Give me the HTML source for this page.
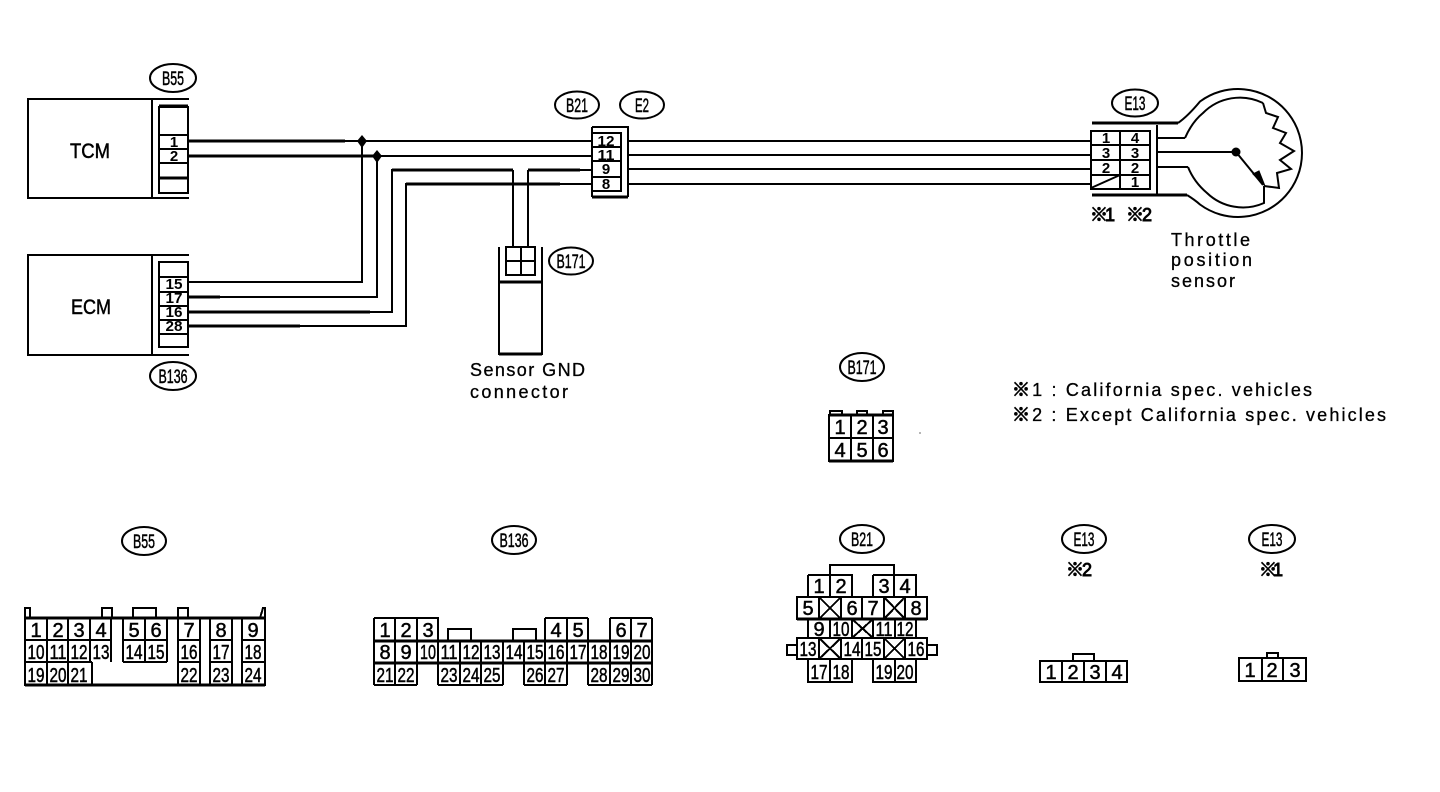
<!DOCTYPE html>
<html><head><meta charset="utf-8"><style>
html,body{margin:0;padding:0;background:#fff;width:1440px;height:792px;overflow:hidden}
svg{display:block}
text{font-family:"Liberation Sans","Noto Sans CJK JP",sans-serif;fill:#000}
.n text{font-size:20px;text-anchor:middle;stroke:#000;stroke-width:.5}
.s text{font-size:15px;font-weight:bold;text-anchor:middle}
.o text{font-size:19px;text-anchor:middle;stroke:#000;stroke-width:.5}
.o ellipse{fill:none;stroke:#000;stroke-width:2}
.l{font-size:18px;stroke:#000;stroke-width:.3}
.m{stroke:#000;stroke-width:.9}
</style></head><body>
<svg width="1440" height="792" viewBox="0 0 1440 792" xmlns="http://www.w3.org/2000/svg">
<g fill="none" stroke="#000" stroke-width="2" shape-rendering="crispEdges">
<!-- TCM -->
<path d="M189 99H28V198H189M152 99V198"/>
<path d="M159 107V193H188V107ZM159 135H188M159 149H188M159 163H188" />
<path d="M159 106H188M159 178H188" stroke-width="3"/>
<!-- ECM -->
<path d="M189 255H28V355H189M152 255V355"/>
<path d="M159 262V347H188V262ZM159 277H188M159 292H188M159 306H188M159 320H188M159 334H188"/>
<!-- wires -->
<path d="M189 141H592M189 156H592M189 282H362V141M189 297H377V156M189 312H392V170H513M189 326H406V184H592M528 170H592M513 170V247M528 170V247"/>
<path d="M189 141H345M189 156H377M392 170H513M528 170H580M406 184H560M189 297H220M189 312H370M189 326H300" stroke-width="3"/>
<path d="M628 141H1091M628 155H1091M628 169H1091M628 184H1091"/>
<!-- B21/E2 -->
<path d="M592 127H628V197M592 127V197M592 133H621V191H592M592 147H621M592 161H621M592 177H621"/>
<path d="M592 197H628" stroke-width="3"/>
<!-- sensor gnd -->
<path d="M499 247V354H542V247M499 282H542M506 247H535V275H506ZM521 247V275M506 261H535"/>
<path d="M499 354H542M499 282H542" stroke-width="3"/>
<!-- E13 connector -->
<path d="M1091 131H1150V189H1091ZM1120 131V189M1091 145H1150M1091 160H1150M1091 175H1150M1157 125V195"/>
<path d="M1092 123H1178M1092 195H1187" stroke-width="3"/>
<path d="M1157 138H1185M1157 167H1188M1157 152H1236"/>
<!-- B171 connector -->
<path d="M829 415H893V461H829ZM851 415V461M873 415V461M829 438H893"/>
<path d="M829 461H893M829 415H893" stroke-width="3"/>
<path d="M830 415V411H842V415M857 415V411H867V415M883 415V411H893V415"/>
<!-- B55 connector -->
<path d="M25 618H265V685H25ZM25 640H111V662M123 640H167M178 640H200M210 640H232M242 640H265M25 662H92M178 662H200M210 662H232M242 662H265"/>
<path d="M47 618V685M68 618V685M90 618V662M111 618V662M123 618V662M145 618V662M167 618V662M178 618V685M200 618V685M210 618V685M232 618V685M242 618V685M92 662V685M123 662H167"/>
<path d="M25 618V608H30V618M102 618V608H112V618M133 618V608H156V618M178 618V608H188V618M260 618L263 608H265V618"/>
<path d="M25 618H265M25 685H265" stroke-width="3"/>
<!-- B136 connector -->
<path d="M374 618H438V641M374 618V685M395 618V685M417 618V685M438 641V685M460 641V685M481 641V685M503 641V685M524 641V685M545 618V685M567 618V685M588 618V685M610 618V685M631 618V685M652 618V685M545 618H588M610 618H652M374 641H652M374 663H652M374 685H417M438 685H503M524 685H567M588 685H652"/>
<path d="M448 641V629H471V641M513 641V629H536V641"/>
<path d="M374 641H652M374 663H652" stroke-width="3"/>
<!-- B21 connector -->
<path d="M830 575V565H894V575M808 575H852V597M808 575V597M830 575V597M873 575H916V597M873 575V597M894 575V597"/>
<path d="M797 597H927V619H797ZM819 597V619M841 597V619M862 597V619M884 597V619M905 597V619M819 597L841 619M841 597L819 619M884 597L905 619M905 597L884 619"/>
<path d="M808 619V638M830 619V638M852 619V638M873 619V638M895 619V638M916 619V638M852 619L873 638M873 619L852 638"/>
<path d="M797 638H927V659H797ZM819 638V659M841 638V659M862 638V659M884 638V659M905 638V659M819 638L841 659M841 638L819 659M884 638L905 659M905 638L884 659"/>
<path d="M787 645H797V655H787ZM927 645H937V655H927Z"/>
<path d="M808 659V682H852V659M830 659V682M873 659V682H916V659M895 659V682"/>
<path d="M797 619H927" stroke-width="3"/>
<!-- E13 bottom -->
<path d="M1040 661H1127V682H1040ZM1062 661V682M1084 661V682M1106 661V682M1073 661V654H1094V661"/>
<path d="M1239 658H1306V681H1239ZM1262 658V681M1283 658V681M1267 658V653H1278V658"/>
</g>
<!-- sensor -->
<g fill="none" stroke="#000" stroke-width="2">
<path d="M1178 123Q1188 116 1200 101.5A64 64 0 1 1 1200 204.5Q1195 200 1187 195"/>
<path d="M1185 138Q1192 122 1203 113A52 52 0 0 1 1263 103M1188 167Q1194 182 1207 193A52 52 0 0 0 1264 203V186"/>
<path d="M1263 103L1266 113L1278 117L1273 128L1286 133L1280 143L1294 151L1280 160L1291 169L1277 173L1279 188L1264 186"/>
<path d="M1236 152L1263 185"/>
<path d="M1091 188L1120 175"/>
</g>
<circle cx="1236" cy="152" r="4.5"/>
<path d="M1253 174L1259 171L1265 186Z" stroke="#000" stroke-width="1"/>
<path d="M362 135L367 141L362 148L357 141Z"/>
<path d="M377 150L382 156L377 163L372 156Z"/>
<!-- oval labels -->
<g class="o">
<ellipse cx="173" cy="78" rx="23" ry="14"/><text x="173" y="85" textLength="22" lengthAdjust="spacingAndGlyphs">B55</text>
<ellipse cx="173" cy="376" rx="23" ry="14"/><text x="173" y="383" textLength="29" lengthAdjust="spacingAndGlyphs">B136</text>
<ellipse cx="577" cy="105" rx="22" ry="13.5"/><text x="577" y="112" textLength="22" lengthAdjust="spacingAndGlyphs">B21</text>
<ellipse cx="642" cy="105" rx="22" ry="13.5"/><text x="642" y="112" textLength="14" lengthAdjust="spacingAndGlyphs">E2</text>
<ellipse cx="1135" cy="103" rx="23" ry="13.5"/><text x="1135" y="110" textLength="21" lengthAdjust="spacingAndGlyphs">E13</text>
<ellipse cx="571" cy="261" rx="22" ry="13.5"/><text x="571" y="268" textLength="29" lengthAdjust="spacingAndGlyphs">B171</text>
<ellipse cx="862" cy="367" rx="22" ry="14"/><text x="862" y="374" textLength="29" lengthAdjust="spacingAndGlyphs">B171</text>
<ellipse cx="144" cy="541" rx="22" ry="14"/><text x="144" y="548" textLength="22" lengthAdjust="spacingAndGlyphs">B55</text>
<ellipse cx="514" cy="540" rx="22" ry="14"/><text x="514" y="547" textLength="29" lengthAdjust="spacingAndGlyphs">B136</text>
<ellipse cx="862" cy="539" rx="22" ry="14"/><text x="862" y="546" textLength="22" lengthAdjust="spacingAndGlyphs">B21</text>
<ellipse cx="1084" cy="539" rx="22" ry="14"/><text x="1084" y="546" textLength="21" lengthAdjust="spacingAndGlyphs">E13</text>
<ellipse cx="1272" cy="539" rx="23" ry="14"/><text x="1272" y="546" textLength="21" lengthAdjust="spacingAndGlyphs">E13</text>
</g>
<!-- main labels -->
<text x="70" y="158" font-size="21" stroke="#000" stroke-width=".5" textLength="40" lengthAdjust="spacingAndGlyphs">TCM</text>
<text x="71" y="314" font-size="21" stroke="#000" stroke-width=".5" textLength="40" lengthAdjust="spacingAndGlyphs">ECM</text>
<text class="l" x="470" y="376" textLength="115">Sensor GND</text>
<text class="l" x="470" y="398" textLength="98">connector</text>
<text class="l" x="1171" y="246" textLength="79">Throttle</text>
<text class="l" x="1171" y="266" textLength="81">position</text>
<text class="l" x="1171" y="287" textLength="64">sensor</text>
<text class="l" x="1012" y="396" textLength="300"><tspan class="m">※</tspan>1 : California spec. vehicles</text>
<text class="l" x="1012" y="421" textLength="374"><tspan class="m">※</tspan>2 : Except California spec. vehicles</text>
<text class="m" x="1090" y="221" font-size="18" textLength="25">※1</text>
<text class="m" x="1126" y="221" font-size="18" textLength="26">※2</text>
<text class="m" x="1066" y="576" font-size="18" textLength="26">※2</text>
<text class="m" x="1259" y="576" font-size="18" textLength="24">※1</text>
<!-- small pins -->
<g class="s">
<text x="174" y="147">1</text><text x="174" y="161">2</text>
<text x="174" y="289" textLength="17" lengthAdjust="spacingAndGlyphs">15</text><text x="174" y="303" textLength="17" lengthAdjust="spacingAndGlyphs">17</text><text x="174" y="317" textLength="17" lengthAdjust="spacingAndGlyphs">16</text><text x="174" y="331" textLength="17" lengthAdjust="spacingAndGlyphs">28</text>
<text x="606" y="146" textLength="17" lengthAdjust="spacingAndGlyphs">12</text><text x="606" y="160" textLength="17" lengthAdjust="spacingAndGlyphs">11</text><text x="606" y="174">9</text><text x="606" y="189">8</text>
<text x="1106" y="143">1</text><text x="1135" y="143">4</text><text x="1106" y="158">3</text><text x="1135" y="158">3</text><text x="1106" y="173">2</text><text x="1135" y="173">2</text><text x="1135" y="187">1</text>
</g>
<!-- cell numbers -->
<g class="n">
<text x="840" y="434">1</text><text x="862" y="434">2</text><text x="883" y="434">3</text><text x="840" y="457">4</text><text x="862" y="457">5</text><text x="883" y="457">6</text>
<text x="36" y="637">1</text><text x="58" y="637">2</text><text x="79" y="637">3</text><text x="101" y="637">4</text><text x="134" y="637">5</text><text x="156" y="637">6</text><text x="189" y="637">7</text><text x="221" y="637">8</text><text x="253" y="637">9</text>
<text x="36" y="659" textLength="17" lengthAdjust="spacingAndGlyphs">10</text><text x="58" y="659" textLength="17" lengthAdjust="spacingAndGlyphs">11</text><text x="79" y="659" textLength="17" lengthAdjust="spacingAndGlyphs">12</text><text x="101" y="659" textLength="17" lengthAdjust="spacingAndGlyphs">13</text><text x="134" y="659" textLength="17" lengthAdjust="spacingAndGlyphs">14</text><text x="156" y="659" textLength="17" lengthAdjust="spacingAndGlyphs">15</text><text x="189" y="659" textLength="17" lengthAdjust="spacingAndGlyphs">16</text><text x="221" y="659" textLength="17" lengthAdjust="spacingAndGlyphs">17</text><text x="253" y="659" textLength="17" lengthAdjust="spacingAndGlyphs">18</text>
<text x="36" y="682" textLength="17" lengthAdjust="spacingAndGlyphs">19</text><text x="58" y="682" textLength="17" lengthAdjust="spacingAndGlyphs">20</text><text x="79" y="682" textLength="17" lengthAdjust="spacingAndGlyphs">21</text><text x="189" y="682" textLength="17" lengthAdjust="spacingAndGlyphs">22</text><text x="221" y="682" textLength="17" lengthAdjust="spacingAndGlyphs">23</text><text x="253" y="682" textLength="17" lengthAdjust="spacingAndGlyphs">24</text>
<text x="385" y="637">1</text><text x="406" y="637">2</text><text x="428" y="637">3</text><text x="556" y="637">4</text><text x="578" y="637">5</text><text x="621" y="637">6</text><text x="642" y="637">7</text>
<text x="385" y="659">8</text><text x="406" y="659">9</text><text x="428" y="659" textLength="16" lengthAdjust="spacingAndGlyphs">10</text><text x="449" y="659" textLength="17" lengthAdjust="spacingAndGlyphs">11</text><text x="471" y="659" textLength="17" lengthAdjust="spacingAndGlyphs">12</text><text x="492" y="659" textLength="17" lengthAdjust="spacingAndGlyphs">13</text><text x="514" y="659" textLength="17" lengthAdjust="spacingAndGlyphs">14</text><text x="535" y="659" textLength="17" lengthAdjust="spacingAndGlyphs">15</text><text x="556" y="659" textLength="17" lengthAdjust="spacingAndGlyphs">16</text><text x="578" y="659" textLength="17" lengthAdjust="spacingAndGlyphs">17</text><text x="599" y="659" textLength="17" lengthAdjust="spacingAndGlyphs">18</text><text x="621" y="659" textLength="17" lengthAdjust="spacingAndGlyphs">19</text><text x="642" y="659" textLength="17" lengthAdjust="spacingAndGlyphs">20</text>
<text x="385" y="682" textLength="17" lengthAdjust="spacingAndGlyphs">21</text><text x="406" y="682" textLength="17" lengthAdjust="spacingAndGlyphs">22</text><text x="449" y="682" textLength="17" lengthAdjust="spacingAndGlyphs">23</text><text x="471" y="682" textLength="17" lengthAdjust="spacingAndGlyphs">24</text><text x="492" y="682" textLength="17" lengthAdjust="spacingAndGlyphs">25</text><text x="535" y="682" textLength="17" lengthAdjust="spacingAndGlyphs">26</text><text x="556" y="682" textLength="17" lengthAdjust="spacingAndGlyphs">27</text><text x="599" y="682" textLength="17" lengthAdjust="spacingAndGlyphs">28</text><text x="621" y="682" textLength="17" lengthAdjust="spacingAndGlyphs">29</text><text x="642" y="682" textLength="17" lengthAdjust="spacingAndGlyphs">30</text>
<text x="819" y="593">1</text><text x="841" y="593">2</text><text x="884" y="593">3</text><text x="905" y="593">4</text>
<text x="808" y="615">5</text><text x="852" y="615">6</text><text x="873" y="615">7</text><text x="916" y="615">8</text>
<text x="819" y="636">9</text><text x="841" y="636" textLength="17" lengthAdjust="spacingAndGlyphs">10</text><text x="884" y="636" textLength="17" lengthAdjust="spacingAndGlyphs">11</text><text x="905" y="636" textLength="17" lengthAdjust="spacingAndGlyphs">12</text>
<text x="808" y="656" textLength="17" lengthAdjust="spacingAndGlyphs">13</text><text x="852" y="656" textLength="17" lengthAdjust="spacingAndGlyphs">14</text><text x="873" y="656" textLength="17" lengthAdjust="spacingAndGlyphs">15</text><text x="916" y="656" textLength="17" lengthAdjust="spacingAndGlyphs">16</text>
<text x="819" y="679" textLength="17" lengthAdjust="spacingAndGlyphs">17</text><text x="841" y="679" textLength="17" lengthAdjust="spacingAndGlyphs">18</text><text x="884" y="679" textLength="17" lengthAdjust="spacingAndGlyphs">19</text><text x="905" y="679" textLength="17" lengthAdjust="spacingAndGlyphs">20</text>
<text x="1051" y="679">1</text><text x="1073" y="679">2</text><text x="1095" y="679">3</text><text x="1117" y="679">4</text>
<text x="1250" y="677">1</text><text x="1272" y="677">2</text><text x="1295" y="677">3</text>
</g>
<circle cx="920" cy="433" r=".6"/>
</svg>
</body></html>
